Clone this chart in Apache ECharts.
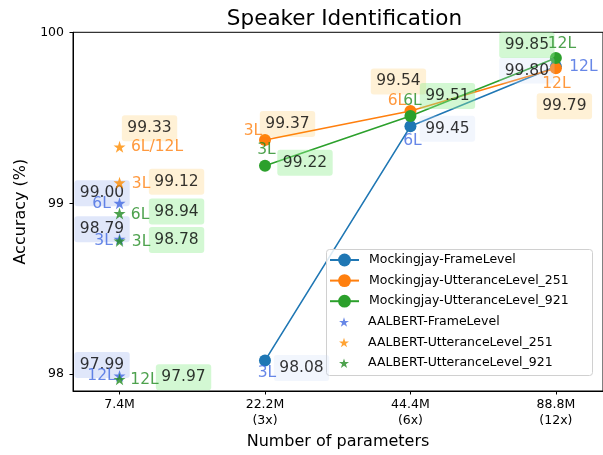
<!DOCTYPE html>
<html>
<head>
<meta charset="utf-8">
<script src="https://cdn.jsdelivr.net/npm/echarts@6/dist/echarts.min.js"></script>
<style>
  html, body { margin: 0; padding: 0; background: #fff; }
  #chart { width: 603px; height: 455px; }
</style>
</head>
<body>
<div id="chart"></div>
<script>
// ---- data ----
const paramLabels = ['7.4M', '22.2M\n(3x)', '44.4M\n(6x)', '88.8M\n(12x)'];
const yTicks = [98, 99, 100];

// Mockingjay models: 3 / 6 / 12 layers at 22.2M, 44.4M, 88.8M
const mjIndex = [1, 2, 3];
const mjLayers = ['3L', '6L', '12L'];
const mjFrameLevel = [98.08, 99.45, 99.80];
const mjUtterance251 = [99.37, 99.54, 99.79];
const mjUtterance921 = [99.22, 99.51, 99.85];

// AALBERT models: all at 7.4M
const aalbertFrameLevel = [99.00, 98.79, 97.99];
const aalbertFrameLayers = ['6L', '3L', '12L'];
const aalbertUtterance251 = [99.33, 99.12];
const aalbertUtt251Layers = ['6L/12L', '3L'];
const aalbertUtterance921 = [98.94, 98.78, 97.97];
const aalbertUtt921Layers = ['6L', '3L', '12L'];

// ---- annotation placement (pixel offsets from each point) ----
const layout = {
  mjFrame:   { value: [[36.5, 7.5], [37, 2.5], [-29, 4]],    layer: [[2, 12.5], [2, 14.5], [27.5, 0]] },
  mj251:     { value: [[22.5, -16], [-12, -29.5], [8.5, 38]], layer: [[-12, -9.5], [-13.5, -10], [0.5, 15.5]] },
  mj921:     { value: [[40, -3], [37, -20], [-29, -13]],     layer: [[1.5, -15.5], [2, -15], [6, -14]] },
  aaFrame:   { value: [[-17.5, -10], [-17.5, -10], [-17.5, -11]], layer: [[-18, 1], [-16, 1.5], [-18, 0]] },
  aa251:     { value: [[30, -18.5], [57, -1]],                layer: [[37.5, 0.5], [21.5, 1.5]] },
  aa921:     { value: [[57, -2], [57, -1], [64, -2]],         layer: [[20.5, 1], [21.5, 1.5], [25, 0.5]] }
};

const FONT = 'DejaVu Sans';
const C_BLUE = '#1f77b4', C_ORANGE = '#ff7f0e', C_GREEN = '#2ca02c';
const S_BLUE = '#4169e1', S_ORANGE = '#ff8c00', S_GREEN = '#228b22';
const STAR = 'path://M50 0 L61.23 34.55 L97.55 34.55 L68.16 55.9 L79.39 90.45 L50 69.1 L20.61 90.45 L31.84 55.9 L2.45 34.55 L38.77 34.55 Z';

const BOX = {
  blue: 'rgba(65,105,225,0.2)',
  paleBlue: 'rgba(200,220,245,0.3)',
  orange: 'rgba(255,165,0,0.2)',
  green: 'rgba(144,238,144,0.5)'
};

function points(xs, ys) {
  return ys.map((v, i) => [Array.isArray(xs) ? xs[i] : xs, v]);
}

// Value labels (boxed) and layer labels for a group of points
function labelSeries(pts, texts, offsets, color, bg, z) {
  const base = {
    show: true,
    position: 'inside',
    align: 'center',
    verticalAlign: 'middle',
    fontFamily: FONT,
    fontSize: 15.5,
    lineHeight: 18,
    color: color,
    backgroundColor: bg || 'transparent',
    padding: bg ? [4, 5.5, 4, 5.5] : 0,
    borderRadius: 3
  };
  return {
    type: 'scatter',
    silent: true,
    symbolSize: 1,
    itemStyle: { color: 'transparent' },
    z: z,
    data: pts.map((p, i) => ({
      value: p,
      label: Object.assign({}, base, { formatter: texts[i], offset: offsets[i] })
    })),
    label: base
  };
}

const mjFramePts = points(mjIndex, mjFrameLevel);
const mj251Pts = points(mjIndex, mjUtterance251);
const mj921Pts = points(mjIndex, mjUtterance921);
const aaFramePts = points(0, aalbertFrameLevel);
const aa251Pts = points(0, aalbertUtterance251);
const aa921Pts = points(0, aalbertUtterance921);
const fmt = arr => arr.map(v => v.toFixed(2));

function lineSeries(name, pts, color) {
  return {
    name: name, type: 'line', data: pts,
    symbol: 'circle', symbolSize: 12,
    lineStyle: { color: color, width: 1.6 },
    itemStyle: { color: color },
    z: 2
  };
}
function starSeries(name, pts, color) {
  return {
    name: name, type: 'scatter', data: pts,
    symbol: STAR, symbolSize: 12,
    itemStyle: { color: color },
    z: 5
  };
}

const series = [
  lineSeries('Mockingjay-FrameLevel', mjFramePts, C_BLUE),
  lineSeries('Mockingjay-UtteranceLevel_251', mj251Pts, C_ORANGE),
  lineSeries('Mockingjay-UtteranceLevel_921', mj921Pts, C_GREEN),
  starSeries('AALBERT-FrameLevel', aaFramePts, S_BLUE),
  starSeries('AALBERT-UtteranceLevel_251', aa251Pts, S_ORANGE),
  starSeries('AALBERT-UtteranceLevel_921', aa921Pts, S_GREEN),

  labelSeries(mjFramePts, fmt(mjFrameLevel), layout.mjFrame.value, '#000', BOX.paleBlue, 3),
  labelSeries(mj251Pts, fmt(mjUtterance251), layout.mj251.value, '#000', BOX.orange, 3),
  labelSeries(mj921Pts, fmt(mjUtterance921), layout.mj921.value, '#000', BOX.green, 3),
  labelSeries(aaFramePts, fmt(aalbertFrameLevel), layout.aaFrame.value, '#000', BOX.blue, 3),
  labelSeries(aa251Pts, fmt(aalbertUtterance251), layout.aa251.value, '#000', BOX.orange, 3),
  labelSeries(aa921Pts, fmt(aalbertUtterance921), layout.aa921.value, '#000', BOX.green, 3),

  labelSeries(mjFramePts, mjLayers, layout.mjFrame.layer, S_BLUE, null, 4),
  labelSeries(mj251Pts, mjLayers, layout.mj251.layer, C_ORANGE, null, 4),
  labelSeries(mj921Pts, mjLayers, layout.mj921.layer, S_GREEN, null, 4),
  labelSeries(aaFramePts, aalbertFrameLayers, layout.aaFrame.layer, S_BLUE, null, 4),
  labelSeries(aa251Pts, aalbertUtt251Layers, layout.aa251.layer, C_ORANGE, null, 4),
  labelSeries(aa921Pts, aalbertUtt921Layers, layout.aa921.layer, S_GREEN, null, 4)
];

const legendText = { fontFamily: FONT, fontSize: 12.5, color: '#000', lineHeight: 16 };

const chart = echarts.init(document.getElementById('chart'), null, { renderer: 'canvas' });
chart.setOption({
  animation: false,
  backgroundColor: '#fff',
  title: {
    text: 'Speaker Identification',
    left: 339.5, textAlign: 'center', top: 3,
    textStyle: { fontFamily: FONT, fontSize: 21.5, fontWeight: 'normal', color: '#000' }
  },
  grid: {
    left: 73, top: 32.3, width: 533, height: 360.7,
    show: true, borderColor: '#000', borderWidth: 1, backgroundColor: 'transparent'
  },
  xAxis: {
    type: 'value', min: -0.32, max: 3.324,
    splitLine: { show: false },
    axisLine: { onZero: false, lineStyle: { color: '#000', width: 1 } },
    axisTick: { customValues: [0, 1, 2, 3], length: 3.5, lineStyle: { color: '#000' } },
    axisLabel: {
      customValues: [0, 1, 2, 3],
      formatter: v => paramLabels[Math.round(v)],
      fontFamily: FONT, fontSize: 12.5, lineHeight: 16, color: '#000', margin: 6
    },
    name: 'Number of parameters', nameLocation: 'middle', nameGap: 43,
    nameTextStyle: { fontFamily: FONT, fontSize: 16, color: '#000' }
  },
  yAxis: {
    type: 'value', min: 97.902, max: 100,
    splitLine: { show: false },
    axisLine: { show: true, onZero: false, lineStyle: { color: '#000', width: 1 } },
    axisTick: { show: true, customValues: yTicks, length: 3.5, lineStyle: { color: '#000' } },
    axisLabel: {
      customValues: yTicks,
      fontFamily: FONT, fontSize: 12.5, color: '#000', margin: 9
    },
    name: 'Accuracy (%)', nameLocation: 'middle', nameGap: 42,
    nameTextStyle: { fontFamily: FONT, fontSize: 16, color: '#000' }
  },
  graphic: [{
    type: 'rect', z: 3, silent: true,
    shape: { x: 326.5, y: 249.5, width: 266, height: 126, r: 3 },
    style: { fill: 'rgba(255,255,255,0.85)', stroke: '#d0d0d0', lineWidth: 1 }
  }],
  legend: [{
    data: ['Mockingjay-FrameLevel', 'Mockingjay-UtteranceLevel_251', 'Mockingjay-UtteranceLevel_921'],
    orient: 'vertical', left: 329, top: 252, padding: 0,
    itemWidth: 29, itemHeight: 16, itemGap: 4.6,
    textStyle: Object.assign({ padding: [0, 0, 0, 5] }, legendText), z: 4
  }, {
    data: ['AALBERT-FrameLevel', 'AALBERT-UtteranceLevel_251', 'AALBERT-UtteranceLevel_921'],
    orient: 'vertical', left: 339, top: 314, padding: 0,
    itemWidth: 10, itemHeight: 10, itemGap: 4.6,
    textStyle: Object.assign({ padding: [0, 0, 0, 14] }, legendText), z: 4
  }],
  series: series
});
</script>
</body>
</html>
